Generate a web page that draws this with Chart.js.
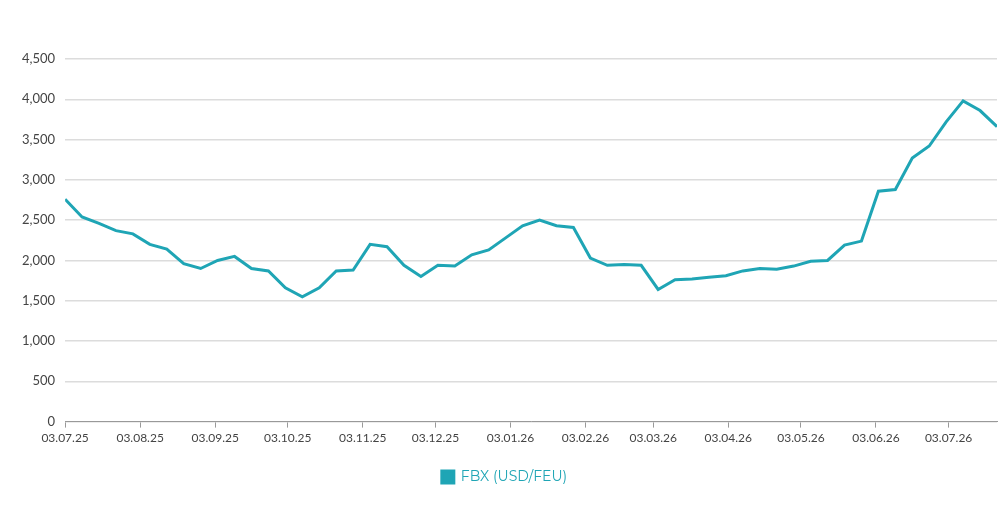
<!DOCTYPE html>
<html><head><meta charset="utf-8">
<script src="https://cdn.jsdelivr.net/npm/chart.js@4"></script>
<style>html,body{margin:0;padding:0;background:#fff}#w{width:1000px;height:522px}</style>
</head><body><div id="w"><canvas id="c"></canvas></div>
<script>
const startDate = "2025-07-03";
const fbxValues = [2760,2540,2460,2370,2330,2200,2140,1960,1900,2000,2050,1900,1870,1660,1550,1660,1870,1880,2200,2170,1940,1800,1940,1930,2070,2130,2280,2430,2500,2430,2410,2030,1940,1950,1940,1640,1760,1770,1790,1810,1870,1900,1890,1930,1990,2000,2190,2240,2860,2880,3270,3420,3720,3980,3860,3660];
const monthTickDays = [0,31,62,92,123,153,184,215,243,274,304,335,365];
const monthTickLabels = ["03.07.25","03.08.25","03.09.25","03.10.25","03.11.25","03.12.25","03.01.26","03.02.26","03.03.26","03.04.26","03.05.26","03.06.26","03.07.26"];
const pts = fbxValues.map((v,i)=>({x:i*7,y:v}));
const teal = '#1fa5b5';
new Chart(document.getElementById('c'),{
 type:'line',
 data:{datasets:[{label:'FBX (USD/FEU)',data:pts,borderColor:teal,backgroundColor:teal,borderWidth:3,pointRadius:0,tension:0}]},
 options:{responsive:true,maintainAspectRatio:false,animation:false,
  layout:{padding:{top:59,right:3,left:12,bottom:28}},
  plugins:{legend:{position:'bottom',labels:{boxWidth:12,boxHeight:12,color:teal,font:{family:'Montserrat, Lato, sans-serif',size:14},padding:22}},tooltip:{enabled:false}},
  scales:{
   x:{type:'linear',min:0,max:385,
    afterBuildTicks:s=>{s.ticks=monthTickDays.map(v=>({value:v}));},
    ticks:{autoSkip:false,maxRotation:0,color:'#444',font:{family:'Lato, sans-serif',size:12},callback:(v)=>{const i=monthTickDays.indexOf(v);return i>=0?monthTickLabels[i]:'';}},
    grid:{display:true,drawOnChartArea:false,drawTicks:true,tickLength:6,color:'#999'},
    border:{color:'#999'}},
   y:{min:0,max:4500,
    ticks:{stepSize:500,color:'#444',padding:10,font:{family:'Lato, sans-serif',size:13},callback:v=>v.toLocaleString('en-US')},
    grid:{color:'#dcdcdc',lineWidth:1.5,drawTicks:false},
    border:{display:false}}
  }}
});
</script></body></html>
